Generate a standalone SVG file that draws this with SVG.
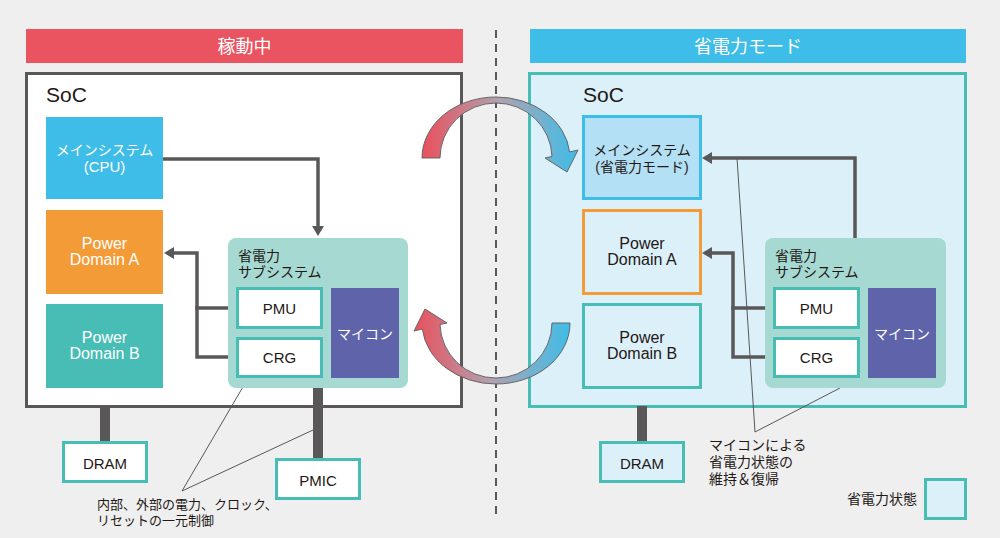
<svg xmlns="http://www.w3.org/2000/svg" width="1000" height="538" viewBox="0 0 1000 538">
<style>
text{font-family:"Liberation Sans","Noto Sans CJK JP",sans-serif;}
.hd{font-size:18px;fill:#fff;text-anchor:middle;}
.soc{font-size:21px;fill:#231815;}
.w{fill:#fff;text-anchor:middle;}
.d{fill:#231815;text-anchor:middle;}
.s14{font-size:14px;}
.s15{font-size:15px;}
.s16{font-size:16px;}
.lbl{font-size:14px;fill:#231815;}
.note{font-size:13px;fill:#231815;}
.conn{fill:none;stroke:#595757;stroke-width:3.5;stroke-linejoin:miter;}
.thin{fill:none;stroke:#595757;stroke-width:1;}
.box{fill:#fff;stroke:#47bdb5;stroke-width:3;}
.boxl{fill:#dcf0f9;stroke:#47bdb5;stroke-width:3;}
.sub{fill:#a7d9d3;}
.mc{fill:#5e63aa;}
.bar{fill:#595757;}
</style>
<defs>
<marker id="ah" markerWidth="12" markerHeight="12" refX="4" refY="6" orient="auto" markerUnits="userSpaceOnUse">
<path d="M0,0 L10,6 L0,12 Z" fill="#595757"/>
</marker>
<linearGradient id="g1" x1="0" y1="0" x2="1" y2="0">
<stop offset="0" stop-color="#e9505c"/>
<stop offset="0.5" stop-color="#b0a2b0"/>
<stop offset="1" stop-color="#3ebde8"/>
</linearGradient>
<linearGradient id="g2" x1="1" y1="0" x2="0" y2="0">
<stop offset="0" stop-color="#e9505c"/>
<stop offset="0.5" stop-color="#b0a2b0"/>
<stop offset="1" stop-color="#3ebde8"/>
</linearGradient>
<path id="carrow" d="M422,158 A74,61 0 0 1 496,97 A74,61 0 0 1 569.6,152 L578,150 L567,172 L545,158 L552,156.5 A56,55 0 0 0 496,103 A56,55 0 0 0 440,158 Z" stroke="#666" stroke-width="1"/>
</defs>
<rect x="0" y="0" width="1000" height="538" fill="#efefef"/>

<g id="divider">
<line x1="496" y1="30" x2="496" y2="520" stroke="#595757" stroke-width="2" stroke-dasharray="8,6"/>
</g>

<g id="header-left">
<rect x="26" y="29" width="437" height="34" fill="#ea5460"/>
<text class="hd" x="244.5" y="53">稼動中</text>
</g>
<g id="header-right">
<rect x="530" y="29" width="436" height="34" fill="#3ebde8"/>
<text class="hd" x="748" y="53">省電力モード</text>
</g>

<g id="soc-left">
<rect x="26.5" y="73.5" width="435" height="333" fill="#fff" stroke="#595757" stroke-width="3"/>
<text class="soc" x="46" y="102">SoC</text>
</g>
<g id="soc-right">
<rect x="529.5" y="73.5" width="436" height="333" fill="#dcf0f9" stroke="#47bdb5" stroke-width="3"/>
<text class="soc" x="583" y="102">SoC</text>
</g>

<g id="bars">
<rect class="bar" x="100" y="406" width="10" height="36"/>
<rect class="bar" x="313" y="386" width="10" height="73"/>
<rect class="bar" x="637" y="406" width="10" height="36"/>
</g>

<g id="connectors">
<path class="conn" d="M163,159 H318 V230" marker-end="url(#ah)"/>
<path class="conn" d="M237,308 H197 V253 H170" marker-end="url(#ah)"/>
<path class="conn" d="M237,357 H197 V306"/>
<path class="conn" d="M855,238 V158 H708" marker-end="url(#ah)"/>
<path class="conn" d="M774,308 H733 V253 H708" marker-end="url(#ah)"/>
<path class="conn" d="M774,357 H733 V306"/>
<path class="thin" d="M247,380 L182,491 L313,430"/>
<path class="thin" d="M737,158 L755,432 L840,388"/>
</g>

<g id="cpu-left">
<rect x="46" y="117" width="117" height="82" fill="#3ebde8"/>
<text class="w s14" x="104.5" y="155">メインシステム</text>
<text class="w s15" x="104.5" y="172">(CPU)</text>
</g>
<g id="pda-left">
<rect x="46" y="210" width="117" height="84" fill="#f39b37"/>
<text class="w s16" x="104.5" y="249">Power</text>
<text class="w s16" x="104.5" y="265">Domain A</text>
</g>
<g id="pdb-left">
<rect x="46" y="304" width="117" height="84" fill="#47bdb5"/>
<text class="w s16" x="104.5" y="343">Power</text>
<text class="w s16" x="104.5" y="359">Domain B</text>
</g>
<g id="sub-left">
<rect class="sub" x="228" y="238" width="180" height="150" rx="8"/>
<text class="lbl" x="238" y="261">省電力</text>
<text class="lbl" x="238" y="277">サブシステム</text>
</g>
<g id="pmu-left">
<rect class="box" x="237.5" y="288.5" width="84" height="39"/>
<text class="d s15" x="279.5" y="314">PMU</text>
</g>
<g id="crg-left">
<rect class="box" x="237.5" y="338.5" width="84" height="38"/>
<text class="d s15" x="279.5" y="363">CRG</text>
</g>
<g id="mc-left">
<rect class="mc" x="331" y="288" width="68" height="90"/>
<text class="w s14" x="365" y="339">マイコン</text>
</g>
<g id="dram-left">
<rect class="box" x="63.5" y="442.5" width="83" height="39"/>
<text class="d s15" x="105" y="469">DRAM</text>
</g>
<g id="pmic-left">
<rect class="box" x="276.5" y="459.5" width="83" height="39"/>
<text class="d s15" x="318" y="486">PMIC</text>
</g>

<g id="cpu-right">
<rect x="583.5" y="116.5" width="117" height="82" fill="#b3e0f4" stroke="#3ebde8" stroke-width="3"/>
<text class="d s14" x="642" y="155">メインシステム</text>
<text class="d s14" x="642" y="172">(省電力モード)</text>
</g>
<g id="pda-right">
<rect x="583.5" y="210.5" width="117" height="83" fill="#dcf0f9" stroke="#f39b37" stroke-width="3"/>
<text class="d s16" x="642" y="249">Power</text>
<text class="d s16" x="642" y="265">Domain A</text>
</g>
<g id="pdb-right">
<rect x="583.5" y="304.5" width="117" height="83" fill="#dcf0f9" stroke="#47bdb5" stroke-width="3"/>
<text class="d s16" x="642" y="343">Power</text>
<text class="d s16" x="642" y="359">Domain B</text>
</g>
<g id="sub-right">
<rect class="sub" x="765" y="238" width="181" height="150" rx="8"/>
<text class="lbl" x="775" y="261">省電力</text>
<text class="lbl" x="775" y="277">サブシステム</text>
</g>
<g id="pmu-right">
<rect class="box" x="774.5" y="288.5" width="84" height="39"/>
<text class="d s15" x="816.5" y="314">PMU</text>
</g>
<g id="crg-right">
<rect class="box" x="774.5" y="338.5" width="84" height="38"/>
<text class="d s15" x="816.5" y="363">CRG</text>
</g>
<g id="mc-right">
<rect class="mc" x="868" y="288" width="68" height="90"/>
<text class="w s14" x="902" y="339">マイコン</text>
</g>
<g id="dram-right">
<rect class="boxl" x="600.5" y="442.5" width="83" height="39"/>
<text class="d s15" x="642" y="469">DRAM</text>
</g>

<g id="transition-arrows">
<use href="#carrow" fill="url(#g1)"/>
<use href="#carrow" fill="url(#g2)" transform="rotate(180 496 240.5)"/>
</g>

<g id="notes">
<text class="note" x="97" y="509">内部、外部の電力、クロック、</text>
<text class="note" x="97" y="525">リセットの一元制御</text>
<text class="lbl" x="709" y="450">マイコンによる</text>
<text class="lbl" x="709" y="467">省電力状態の</text>
<text class="lbl" x="709" y="484">維持＆復帰</text>
</g>

<g id="legend">
<rect class="boxl" x="925.5" y="479.5" width="40" height="39"/>
<text class="lbl" x="917" y="504" text-anchor="end">省電力状態</text>
</g>
</svg>
